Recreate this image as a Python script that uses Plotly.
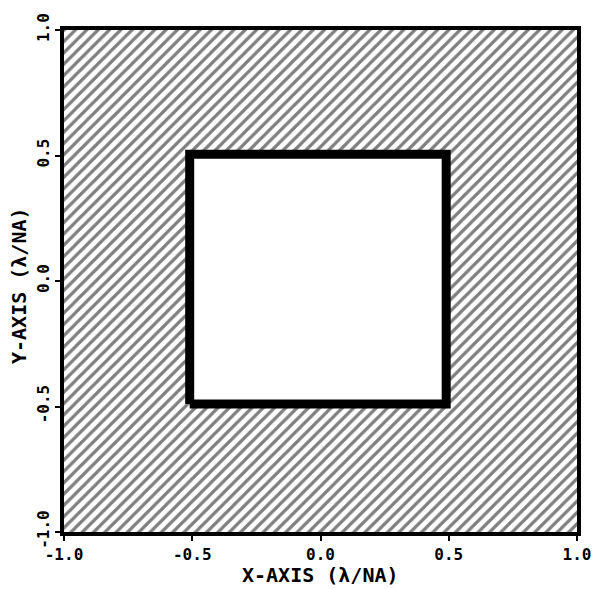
import plotly.graph_objects as go

# Pupil field (full extent) and the central clear aperture, in units of lambda/NA
field_x = [-1.0, 1.0, 1.0, -1.0, -1.0]
field_y = [-1.0, -1.0, 1.0, 1.0, -1.0]
aperture_x = [-0.51, 0.49, 0.49, -0.51, -0.51]
aperture_y = [-0.49, -0.49, 0.505, 0.505, -0.49]

tick_vals = [-1.0, -0.5, 0.0, 0.5, 1.0]
tick_text = ["-1.0", "-0.5", "0.0", "0.5", "1.0"]

x_title = "X-AXIS (λ/NA)"
y_title = "Y-AXIS (λ/NA)"

FONT = "DejaVu Sans Mono"

fig = go.Figure()

# hatched field
fig.add_trace(go.Scatter(
    x=field_x, y=field_y, mode="lines", fill="toself",
    fillcolor="white",
    fillpattern=dict(shape="/", fgcolor="black", bgcolor="white",
                     size=8, solidity=0.4),
    line=dict(width=0, color="black"),
    hoverinfo="skip", showlegend=False,
))

# open (clear) aperture with heavy outline
fig.add_trace(go.Scatter(
    x=aperture_x, y=aperture_y, mode="lines", fill="toself",
    fillcolor="white",
    line=dict(width=9, color="black"),
    hoverinfo="skip", showlegend=False,
))

axis_common = dict(
    range=[-1.0, 1.0],
    tickvals=tick_vals, ticktext=tick_text,
    showgrid=False, zeroline=False,
    showline=True, linecolor="black", linewidth=4, mirror=True,
    ticks="outside", ticklen=5, tickwidth=2, tickcolor="black",
    tickfont=dict(family=FONT, size=16, color="black", weight="bold"),
    ticklabelstandoff=0,
    automargin=False,
)

title_font = dict(family=FONT, size=20, color="black", weight="bold")

fig.update_layout(
    width=599, height=589,
    margin=dict(l=64, r=22, t=30, b=57),
    paper_bgcolor="white", plot_bgcolor="white",
    xaxis=dict(**axis_common),
    yaxis=dict(**axis_common, tickangle=-90),
    annotations=[
        dict(text=x_title, xref="paper", yref="paper", x=0.5, y=0,
             xanchor="center", yanchor="middle", yshift=-43,
             showarrow=False, font=title_font),
        dict(text=y_title, xref="paper", yref="paper", x=0, y=0.5,
             xanchor="center", yanchor="middle", xshift=-45, yshift=-5,
             textangle=-90, showarrow=False, font=title_font),
    ],
)

fig.write_html("out.html")
